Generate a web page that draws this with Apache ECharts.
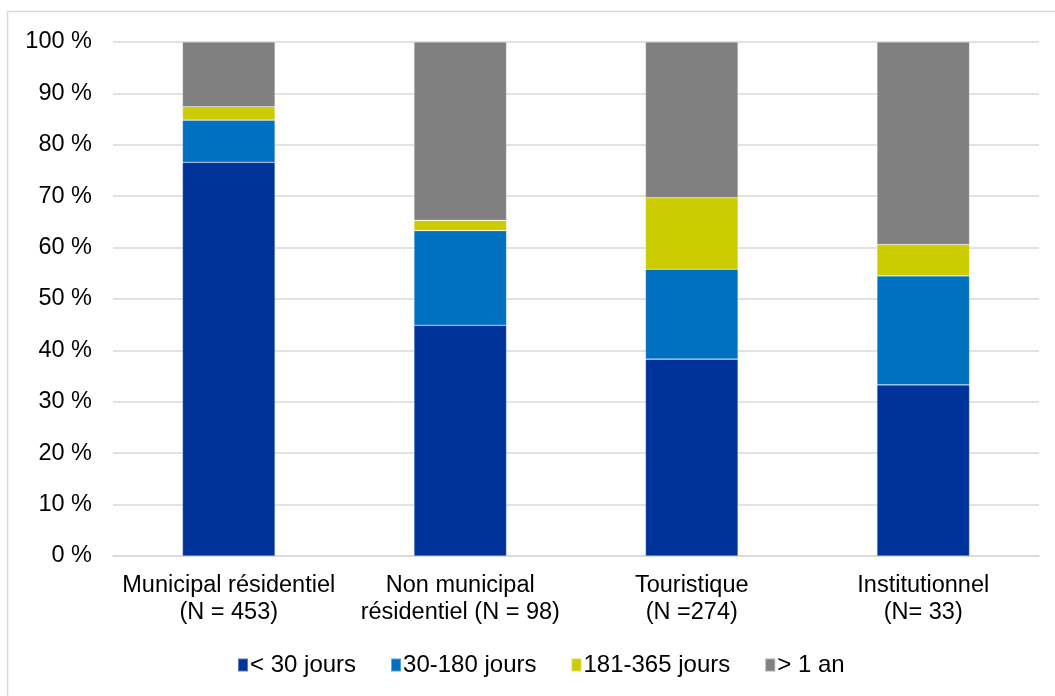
<!DOCTYPE html>
<html>
<head>
<meta charset="utf-8">
<script src="https://cdn.jsdelivr.net/npm/echarts@6/dist/echarts.min.js"></script>
<style>
  html, body { margin: 0; padding: 0; background: #ffffff; }
  #chart { width: 1055px; height: 696px; }
</style>
</head>
<body>
<div id="chart"></div>
<script>
// Categories (x axis) and the share of each delay class, in percent
const categories = [
  'Municipal résidentiel\n(N = 453)',
  'Non municipal\nrésidentiel (N = 98)',
  'Touristique\n(N =274)',
  'Institutionnel\n(N= 33)'
];
const seriesNames = ['< 30 jours', '30-180 jours', '181-365 jours', '> 1 an'];
const lessThan30 = [76.6, 44.9, 38.3, 33.3];
const from30to180 = [8.2, 18.4, 17.5, 21.2];
const from181to365 = [2.6, 2.0, 13.9, 6.1];
const overOneYear = [12.6, 34.7, 30.3, 39.4];
const yTicks = [0, 10, 20, 30, 40, 50, 60, 70, 80, 90, 100];

const colors = ['#003399', '#0070C0', '#CCCC00', '#808080'];
const values = [lessThan30, from30to180, from181to365, overOneYear];
const font = 'Liberation Sans, Arial, sans-serif';

const chart = echarts.init(document.getElementById('chart'), null, { renderer: 'canvas' });

chart.setOption({
  animation: false,
  backgroundColor: '#ffffff',
  graphic: [{
    type: 'rect',
    shape: { x: 7.5, y: 11.5, width: 1100, height: 720 },
    style: { fill: 'none', stroke: '#d9d9d9', lineWidth: 1.5 },
    silent: true
  }],
  grid: { left: 113, right: 16, top: 42, bottom: 140, containLabel: false },
  legend: {
    bottom: 14,
    left: 232,
    itemWidth: 10,
    itemHeight: 13,
    itemGap: 34,
    icon: 'rect',
    textStyle: { fontFamily: font, fontSize: 24, color: '#000000', padding: [0, 0, 0, -3] },
    data: seriesNames
  },
  xAxis: {
    type: 'category',
    data: categories,
    axisLine: { show: true, lineStyle: { color: '#d9d9d9', width: 1.5 } },
    axisTick: { show: false },
    axisLabel: {
      fontFamily: font, fontSize: 23.5, color: '#000000',
      lineHeight: 27, margin: 16, interval: 0
    }
  },
  yAxis: {
    type: 'value',
    min: 0,
    max: 100,
    interval: 10,
    axisLine: { show: false },
    axisTick: { show: false },
    splitLine: { lineStyle: { color: '#d9d9d9', width: 1.5 } },
    axisLabel: {
      fontFamily: font, fontSize: 23.5, color: '#000000', margin: 21,
      formatter: v => yTicks.includes(v) ? v + ' %' : ''
    }
  },
  series: seriesNames.map((name, i) => ({
    name: name,
    type: 'bar',
    stack: 'total',
    barWidth: '40%',
    data: values[i],
    itemStyle: { color: colors[i], borderColor: 'rgba(255,255,255,0.35)', borderWidth: 0.6 }
  }))
});
</script>
</body>
</html>
